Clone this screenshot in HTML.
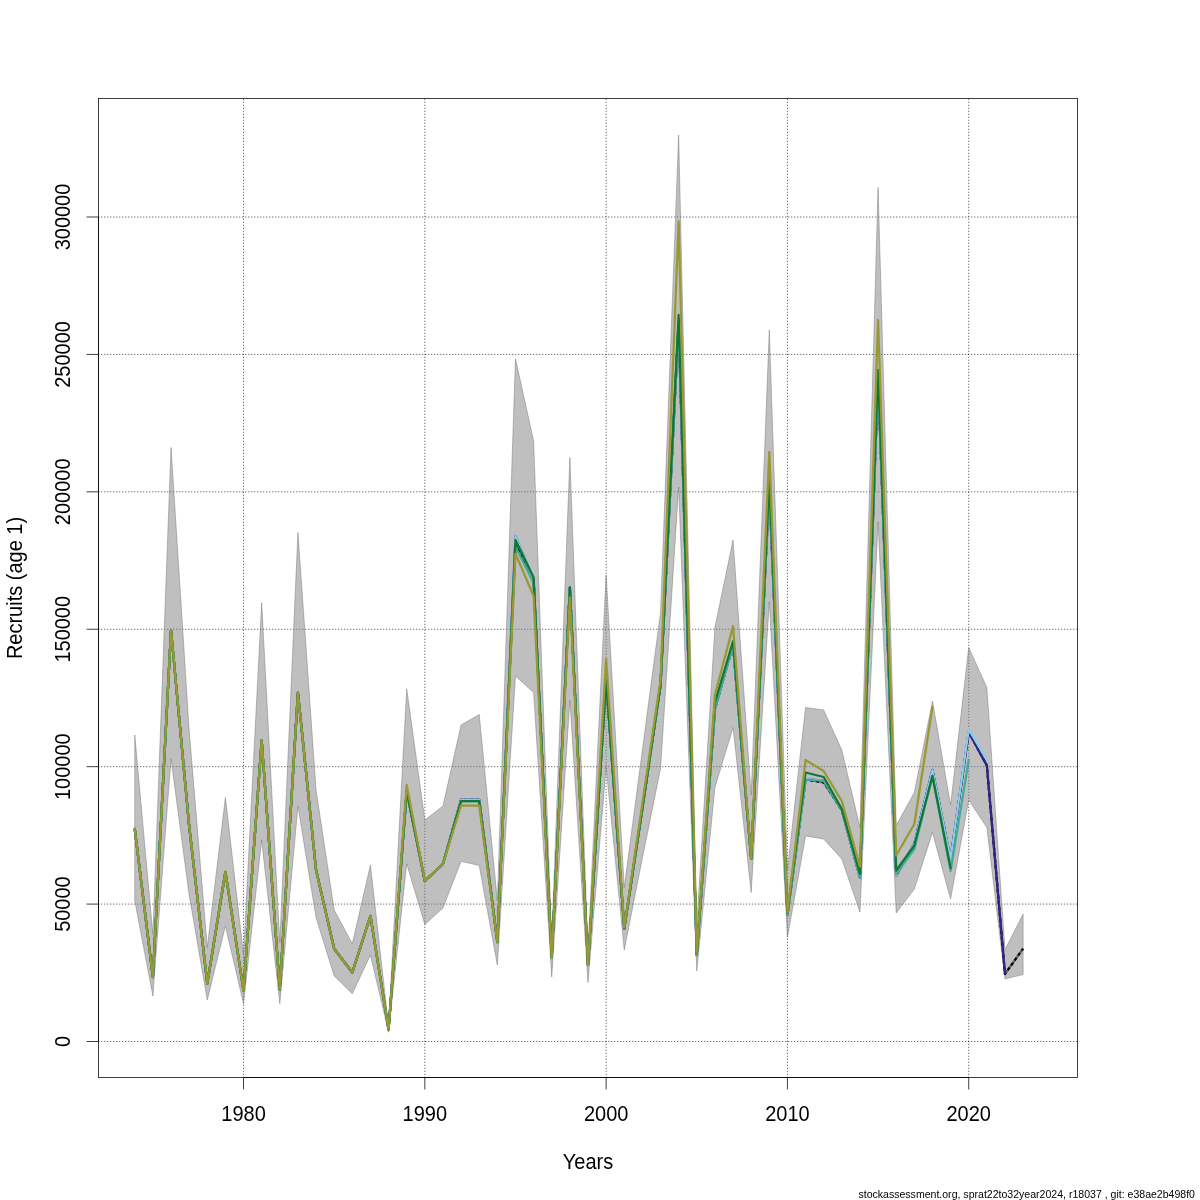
<!DOCTYPE html>
<html><head><meta charset="utf-8"><title>Recruits</title>
<style>html,body{margin:0;padding:0;background:#fff;width:1200px;height:1200px;overflow:hidden}svg{display:block;will-change:transform}</style>
</head><body>
<svg width="1200" height="1200" viewBox="0 0 1200 1200">
<rect width="1200" height="1200" fill="#fff"/>
<g stroke="#000" stroke-width="0.75" stroke-dasharray="1 2" stroke-dashoffset="0.25" fill="none"><line x1="243.54" y1="1077.5" x2="243.54" y2="98.5"/><line x1="424.83" y1="1077.5" x2="424.83" y2="98.5"/><line x1="606.13" y1="1077.5" x2="606.13" y2="98.5"/><line x1="787.43" y1="1077.5" x2="787.43" y2="98.5"/><line x1="968.72" y1="1077.5" x2="968.72" y2="98.5"/><line x1="98.5" y1="1041.50" x2="1077.5" y2="1041.50"/><line x1="98.5" y1="904.08" x2="1077.5" y2="904.08"/><line x1="98.5" y1="766.67" x2="1077.5" y2="766.67"/><line x1="98.5" y1="629.25" x2="1077.5" y2="629.25"/><line x1="98.5" y1="491.83" x2="1077.5" y2="491.83"/><line x1="98.5" y1="354.42" x2="1077.5" y2="354.42"/><line x1="98.5" y1="217.00" x2="1077.5" y2="217.00"/></g>
<polygon points="134.76,735.00 152.89,934.50 171.02,447.50 189.15,730.00 207.28,947.50 225.41,797.50 243.54,955.00 261.67,602.50 279.80,942.50 297.93,532.50 316.06,790.00 334.19,910.00 352.31,943.75 370.44,865.00 388.57,1026.00 406.70,688.75 424.83,820.00 442.96,806.00 461.09,725.00 479.22,714.50 497.35,900.70 515.48,358.75 533.61,441.00 551.74,940.00 569.87,457.50 588.00,950.00 606.13,575.00 624.26,887.50 642.39,750.00 660.52,612.50 678.65,135.00 696.78,925.00 714.91,627.50 733.04,540.00 751.17,795.00 769.30,330.00 787.43,870.00 805.56,707.50 823.69,710.00 841.81,750.00 859.94,827.50 878.07,187.50 896.20,825.50 914.33,792.50 932.46,701.00 950.59,805.00 968.72,647.50 986.85,687.50 1004.98,949.70 1023.11,914.00 1023.11,974.60 1004.98,979.00 986.85,827.50 968.72,800.00 950.59,899.00 932.46,832.50 914.33,889.00 896.20,913.00 878.07,522.00 859.94,912.00 841.81,859.00 823.69,839.00 805.56,836.00 787.43,937.50 769.30,601.50 751.17,892.50 733.04,727.50 714.91,787.50 696.78,971.00 678.65,487.00 660.52,768.75 642.39,858.00 624.26,950.00 606.13,767.00 588.00,982.50 569.87,700.50 551.74,977.00 533.61,692.50 515.48,676.00 497.35,965.00 479.22,865.50 461.09,861.30 442.96,908.00 424.83,924.50 406.70,863.75 388.57,1032.20 370.44,955.00 352.31,993.75 334.19,976.00 316.06,917.50 297.93,806.00 279.80,1003.75 261.67,840.00 243.54,1003.75 225.41,926.00 207.28,1000.00 189.15,895.00 171.02,758.75 152.89,996.00 134.76,900.50" fill="rgba(128,128,128,0.5)" stroke="rgba(112,112,112,0.6)" stroke-width="0.75"/>
<path d="M134.76,829.00 L152.89,977.00 L171.02,630.00 L189.15,826.00 L207.28,983.50 L225.41,872.00 L243.54,990.50 L261.67,740.50 L279.80,989.50 L297.93,692.50 L316.06,870.00 L334.19,948.75 L352.31,972.50 L370.44,916.00 L388.57,1029.50 L406.70,791.00 L424.83,881.00 L442.96,864.00 L461.09,799.50 L479.22,799.50 L497.35,942.00 L515.48,543.50 L533.61,580.00 L551.74,957.50 L569.87,587.50 L588.00,965.00 L606.13,680.00 L624.26,928.50 L642.39,808.00 L660.52,685.00 L678.65,323.00 L696.78,955.00 L714.91,709.00 L733.04,645.00 L751.17,858.75 L769.30,488.00 L787.43,915.00 L805.56,779.50 L823.69,782.30 L841.81,810.00 L859.94,877.50 L878.07,378.00 L896.20,875.50 L914.33,843.50 L932.46,770.00 L950.59,859.00 L968.72,732.00 L986.85,765.50 L1004.98,974.00 L1023.11,948.60" fill="none" stroke="#606060" stroke-width="2.25" stroke-linejoin="round"/>
<path d="M134.76,829.00 L152.89,977.00 L171.02,630.00 L189.15,826.00 L207.28,983.50 L225.41,872.00 L243.54,990.50 L261.67,740.50 L279.80,989.50 L297.93,692.50 L316.06,870.00 L334.19,948.75 L352.31,972.50 L370.44,916.00 L388.57,1029.50 L406.70,791.00 L424.83,881.00 L442.96,864.00 L461.09,799.50 L479.22,799.50 L497.35,942.00 L515.48,543.50 L533.61,580.00 L551.74,957.50 L569.87,587.50 L588.00,965.00 L606.13,680.00 L624.26,928.50 L642.39,808.00 L660.52,685.00 L678.65,323.00 L696.78,955.00 L714.91,709.00 L733.04,645.00 L751.17,858.75 L769.30,488.00 L787.43,915.00 L805.56,779.50 L823.69,782.30 L841.81,810.00 L859.94,877.50 L878.07,378.00 L896.20,875.50 L914.33,843.50 L932.46,770.00 L950.59,859.00 L968.72,732.00 L986.85,765.50 L1004.98,974.00 L1023.11,948.60" fill="none" stroke="#000" stroke-width="2.25" stroke-dasharray="3 3" stroke-linejoin="round"/>
<path d="M134.76,829.00 L152.89,977.00 L171.02,630.00 L189.15,826.00 L207.28,983.50 L225.41,872.00 L243.54,990.50 L261.67,740.50 L279.80,989.50 L297.93,692.50 L316.06,870.00 L334.19,948.75 L352.31,972.50 L370.44,916.00 L388.57,1029.50 L406.70,791.00 L424.83,881.00 L442.96,864.00 L461.09,799.50 L479.22,799.50 L497.35,942.00 L515.48,536.25 L533.61,580.00 L551.74,957.50 L569.87,587.50 L588.00,965.00 L606.13,680.00 L624.26,928.50 L642.39,808.00 L660.52,685.00 L678.65,323.00 L696.78,955.00 L714.91,709.00 L733.04,645.00 L751.17,858.75 L769.30,488.00 L787.43,915.00 L805.56,779.00 L823.69,780.50 L841.81,810.00 L859.94,877.50 L878.07,378.00 L896.20,875.00 L914.33,843.50 L932.46,770.00 L950.59,859.00 L968.72,732.00 L986.85,765.50 L1004.98,973.50" fill="none" stroke="#332288" stroke-width="2.25" stroke-linejoin="round" stroke-linecap="round"/>
<path d="M134.76,829.00 L152.89,977.00 L171.02,630.00 L189.15,826.00 L207.28,983.50 L225.41,872.00 L243.54,990.50 L261.67,740.50 L279.80,989.50 L297.93,692.50 L316.06,870.00 L334.19,948.75 L352.31,972.50 L370.44,916.00 L388.57,1029.50 L406.70,791.00 L424.83,881.00 L442.96,864.00 L461.09,799.50 L479.22,799.50 L497.35,942.00 L515.48,536.25 L533.61,580.00 L551.74,957.50 L569.87,587.50 L588.00,965.00 L606.13,680.00 L624.26,928.50 L642.39,808.00 L660.52,685.00 L678.65,323.00 L696.78,955.00 L714.91,709.00 L733.04,645.00 L751.17,858.75 L769.30,488.00 L787.43,915.00 L805.56,779.00 L823.69,780.50 L841.81,810.00 L859.94,877.50 L878.07,378.00 L896.20,875.00 L914.33,843.50 L932.46,770.00 L950.59,859.00 L968.72,729.50 L986.85,760.00" fill="none" stroke="#88CCEE" stroke-width="2.25" stroke-linejoin="round" stroke-linecap="round"/>
<path d="M134.76,829.00 L152.89,977.00 L171.02,630.00 L189.15,826.00 L207.28,983.50 L225.41,872.00 L243.54,990.50 L261.67,740.50 L279.80,989.50 L297.93,692.50 L316.06,870.00 L334.19,948.75 L352.31,972.50 L370.44,916.00 L388.57,1029.50 L406.70,791.00 L424.83,881.00 L442.96,864.00 L461.09,801.00 L479.22,801.00 L497.35,942.00 L515.48,546.70 L533.61,583.00 L551.74,957.50 L569.87,587.50 L588.00,965.00 L606.13,680.00 L624.26,928.50 L642.39,808.00 L660.52,685.00 L678.65,320.00 L696.78,955.00 L714.91,709.00 L733.04,645.00 L751.17,858.75 L769.30,485.00 L787.43,915.00 L805.56,779.50 L823.69,781.00 L841.81,810.00 L859.94,877.50 L878.07,375.00 L896.20,874.00 L914.33,849.00 L932.46,776.00 L950.59,871.00 L968.72,760.00" fill="none" stroke="#44AA99" stroke-width="2.25" stroke-linejoin="round" stroke-linecap="round"/>
<path d="M134.76,829.00 L152.89,977.00 L171.02,630.00 L189.15,826.00 L207.28,983.50 L225.41,872.00 L243.54,990.50 L261.67,740.50 L279.80,989.50 L297.93,692.50 L316.06,870.00 L334.19,948.75 L352.31,972.50 L370.44,916.00 L388.57,1029.50 L406.70,791.00 L424.83,881.00 L442.96,864.00 L461.09,801.00 L479.22,801.00 L497.35,942.00 L515.48,540.00 L533.61,577.50 L551.74,957.50 L569.87,587.50 L588.00,965.00 L606.13,680.00 L624.26,928.50 L642.39,808.00 L660.52,685.00 L678.65,315.00 L696.78,953.00 L714.91,702.50 L733.04,641.25 L751.17,858.75 L769.30,480.50 L787.43,913.00 L805.56,772.50 L823.69,777.00 L841.81,809.00 L859.94,873.60 L878.07,370.00 L896.20,870.50 L914.33,845.50 L932.46,776.00 L950.59,868.00" fill="none" stroke="#117733" stroke-width="2.25" stroke-linejoin="round" stroke-linecap="round"/>
<path d="M134.76,829.00 L152.89,977.00 L171.02,630.00 L189.15,826.00 L207.28,983.50 L225.41,872.00 L243.54,990.50 L261.67,740.50 L279.80,989.50 L297.93,692.50 L316.06,870.00 L334.19,948.75 L352.31,972.50 L370.44,916.00 L388.57,1029.50 L406.70,785.00 L424.83,881.00 L442.96,864.00 L461.09,805.50 L479.22,805.50 L497.35,942.00 L515.48,553.75 L533.61,596.00 L551.74,957.50 L569.87,597.50 L588.00,965.00 L606.13,659.00 L624.26,927.50 L642.39,803.50 L660.52,680.00 L678.65,221.25 L696.78,952.50 L714.91,695.00 L733.04,626.25 L751.17,858.75 L769.30,452.00 L787.43,912.50 L805.56,760.00 L823.69,771.00 L841.81,801.00 L859.94,866.70 L878.07,320.00 L896.20,855.50 L914.33,824.00 L932.46,707.00" fill="none" stroke="#999933" stroke-width="2.25" stroke-linejoin="round" stroke-linecap="round"/>
<rect x="98.5" y="98.5" width="979" height="979" fill="none" stroke="#000" stroke-width="0.75"/>
<g stroke="#000" stroke-width="0.75"><line x1="243.54" y1="1077.5" x2="968.72" y2="1077.5"/><line x1="243.54" y1="1077.5" x2="243.54" y2="1089.5"/><line x1="424.83" y1="1077.5" x2="424.83" y2="1089.5"/><line x1="606.13" y1="1077.5" x2="606.13" y2="1089.5"/><line x1="787.43" y1="1077.5" x2="787.43" y2="1089.5"/><line x1="968.72" y1="1077.5" x2="968.72" y2="1089.5"/><line x1="98.5" y1="1041.50" x2="98.5" y2="217.00"/><line x1="86.5" y1="1041.50" x2="98.5" y2="1041.50"/><line x1="86.5" y1="904.08" x2="98.5" y2="904.08"/><line x1="86.5" y1="766.67" x2="98.5" y2="766.67"/><line x1="86.5" y1="629.25" x2="98.5" y2="629.25"/><line x1="86.5" y1="491.83" x2="98.5" y2="491.83"/><line x1="86.5" y1="354.42" x2="98.5" y2="354.42"/><line x1="86.5" y1="217.00" x2="98.5" y2="217.00"/></g>
<g font-family='"Liberation Sans", sans-serif' font-size="20" fill="#000"><text transform="translate(243.54,1120.8) scale(1,1.07)" text-anchor="middle">1980</text><text transform="translate(424.83,1120.8) scale(1,1.07)" text-anchor="middle">1990</text><text transform="translate(606.13,1120.8) scale(1,1.07)" text-anchor="middle">2000</text><text transform="translate(787.43,1120.8) scale(1,1.07)" text-anchor="middle">2010</text><text transform="translate(968.72,1120.8) scale(1,1.07)" text-anchor="middle">2020</text><text transform="translate(70,1041.50) rotate(-90) scale(1,1.07)" text-anchor="middle">0</text><text transform="translate(70,904.08) rotate(-90) scale(1,1.07)" text-anchor="middle">50000</text><text transform="translate(70,766.67) rotate(-90) scale(1,1.07)" text-anchor="middle">100000</text><text transform="translate(70,629.25) rotate(-90) scale(1,1.07)" text-anchor="middle">150000</text><text transform="translate(70,491.83) rotate(-90) scale(1,1.07)" text-anchor="middle">200000</text><text transform="translate(70,354.42) rotate(-90) scale(1,1.07)" text-anchor="middle">250000</text><text transform="translate(70,217.00) rotate(-90) scale(1,1.07)" text-anchor="middle">300000</text><text transform="translate(588,1169) scale(1,1.07)" text-anchor="middle">Years</text><text transform="translate(21.5,588) rotate(-90) scale(1,1.07)" text-anchor="middle">Recruits (age 1)</text></g>
<text x="1195" y="1197.7" text-anchor="end" font-family='"Liberation Sans", sans-serif' font-size="10.55" fill="#000">stockassessment.org, sprat22to32year2024, r18037 , git: e38ae2b498f0</text>
</svg>
</body></html>
